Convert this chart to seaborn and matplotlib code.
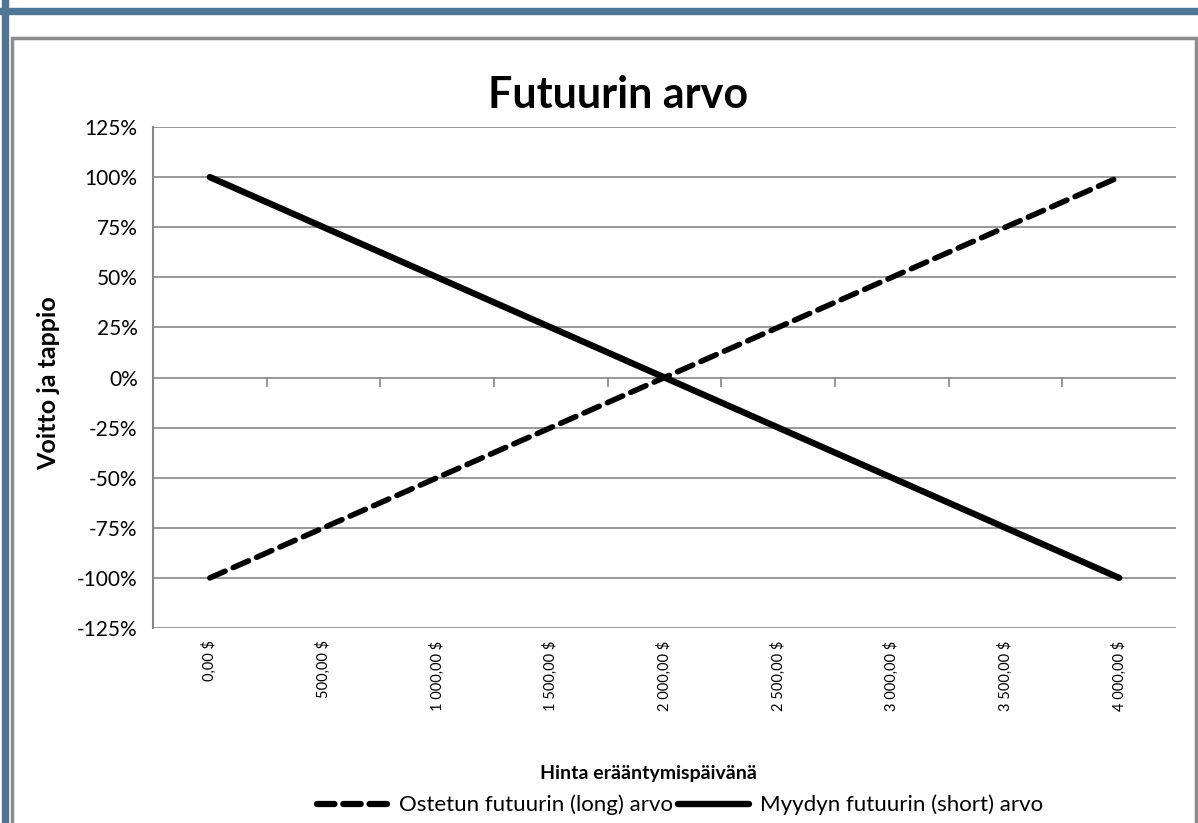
import numpy as np
import pandas as pd
import seaborn as sns
import matplotlib.pyplot as plt
from matplotlib.patches import Rectangle

# data
prices = ["0,00 $", "500,00 $", "1 000,00 $", "1 500,00 $", "2 000,00 $",
          "2 500,00 $", "3 000,00 $", "3 500,00 $", "4 000,00 $"]
long_value = [-1.00, -0.75, -0.50, -0.25, 0.00, 0.25, 0.50, 0.75, 1.00]
short_value = [1.00, 0.75, 0.50, 0.25, 0.00, -0.25, -0.50, -0.75, -1.00]
long_name = "Ostetun futuurin (long) arvo"
short_name = "Myydyn futuurin (short) arvo"

df = pd.DataFrame({
    "pos": list(range(len(prices))) * 2,
    "arvo": long_value + short_value,
    "sarja": [long_name] * len(prices) + [short_name] * len(prices),
})

sns.set_style("white", {"text.color": "black", "xtick.color": "black", "ytick.color": "black"})
plt.rcParams['font.family'] = ['Lato', 'DejaVu Sans']

fig = plt.figure(figsize=(11.98, 8.23), dpi=100)
ax = fig.add_axes([153 / 1198, 1 - 628 / 823, (1176 - 153) / 1198, (628 - 127) / 823])

# frames around the chart
fig.patches.append(Rectangle((2 / 1198, -0.01), 6 / 1198, 1.02, transform=fig.transFigure,
                             color="#4F7696", zorder=0))
fig.patches.append(Rectangle((0, 1 - 14 / 823), 1.0, 6 / 823, transform=fig.transFigure,
                             color="#4F7696", zorder=0))
fig.patches.append(Rectangle((12 / 1198, -0.05), (1196 - 12) / 1198, 1.05 - 38 / 823,
                             transform=fig.transFigure, fill=False, ec="#8C8C8C", lw=2.5, zorder=0))

ax.yaxis.grid(True, color="#868686", lw=1.2)
sns.lineplot(data=df, x="pos", y="arvo", hue="sarja", style="sarja",
             palette=["black", "black"], dashes={long_name: (3, 1.6), short_name: ""},
             linewidth=4, ax=ax, legend=False)
ax.lines[0].set_dash_capstyle("round")
ax.lines[1].set_linewidth(4.6)

ax.set_xlim(-0.5, len(prices) - 0.5)
ax.set_ylim(-1.25, 1.25)
yt = np.arange(-1.25, 1.26, 0.25)
ax.set_yticks(yt)
ax.set_yticklabels([f"{int(round(v * 100))}%" for v in yt], fontsize=15)
ax.tick_params(axis="y", length=7, color="#868686", labelcolor="black", width=1.2, pad=4)

ax.set_xticks(range(len(prices)))
ax.set_xticklabels(prices, rotation=90, fontsize=10.5, va="top")
ax.tick_params(axis="x", length=0, pad=9, labelcolor="black")

for s in ["top", "right", "bottom"]:
    ax.spines[s].set_visible(False)
ax.spines["left"].set_color("#868686")
ax.spines["left"].set_linewidth(1.5)

# category axis crosses at 0 (middle of the y range), ticks between categories
sec = ax.secondary_xaxis(0.5)
sec.set_xticks(np.arange(0.5, len(prices) - 0.5, 1))
sec.set_xticklabels([])
sec.tick_params(length=7, color="#868686", width=1.2, direction="in",
                labeltop=False, labelbottom=False)
for s in sec.spines.values():
    s.set_visible(False)

ax.set_xlabel("")
ax.set_ylabel("")
fig.text(618 / 1198, 1 - 95 / 823, "Futuurin arvo", ha="center", va="center",
         fontsize=31, fontweight="bold", color="black")
fig.text(49 / 1198, 1 - 383 / 823, "Voitto ja tappio", rotation=90, ha="center", va="center",
         fontsize=18, fontweight="bold", color="black")
fig.text(648 / 1198, 1 - 773 / 823, "Hinta erääntymispäivänä", ha="center", va="center",
         fontsize=14, fontweight="bold", color="black")

# legend
handles = [plt.Line2D([], [], color="black", lw=4.5, dashes=(2.8, 1.4), dash_capstyle="round"),
           plt.Line2D([], [], color="black", lw=4.6, solid_capstyle="round")]
fig.legend(handles, [long_name, short_name], loc="center", bbox_to_anchor=(680 / 1198, 1 - 805 / 823),
           ncol=2, frameon=False, fontsize=16, handlelength=3.2, columnspacing=0.2,
           handletextpad=0.5, borderpad=0, labelcolor="black")

fig.savefig("out.png", dpi=100)
